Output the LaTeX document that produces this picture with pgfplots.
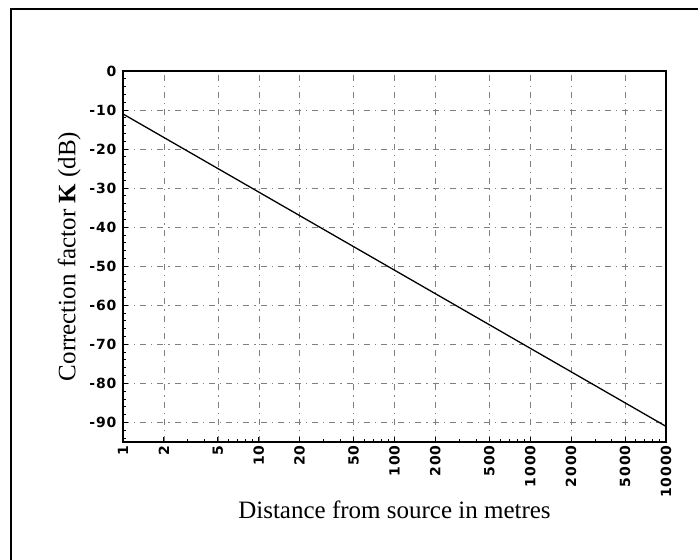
\documentclass[border=0pt]{standalone}
\usepackage{pgfplots}
\pgfplotsset{compat=1.18}
\usepackage{fontspec}
\setmainfont{Liberation Serif}
\newfontfamily\tickfont[LetterSpace=6]{DejaVu Sans}
\begin{document}
\begin{tikzpicture}[x=1pt,y=1pt]
\path[use as bounding box] (-123,-117) rectangle (575,442);
\draw[line width=1.6pt] (-112,-120) -- (-112,433) -- (580,433);
\begin{axis}[
  at={(0,0)}, anchor=south west,
  scale only axis, width=543pt, height=371pt,
  xmode=log, xmin=1, xmax=10000, ymin=-95, ymax=0,
  axis line style={line width=1.6pt},
  xtick={1,2,5,10,20,50,100,200,500,1000,2000,5000,10000},
  xticklabels={1,2,5,10,20,50,100,200,500,1000,2000,5000,10000},
  minor xtick={3,4,6,7,8,9,30,40,60,70,80,90,300,400,600,700,800,900,3000,4000,6000,7000,8000,9000},
  ytick={0,-10,-20,-30,-40,-50,-60,-70,-80,-90},
  yticklabels={0,{-}10,{-}20,{-}30,{-}40,{-}50,{-}60,{-}70,{-}80,{-}90},
  minor ytick={-94,-92,...,-2},
  xtick pos=bottom, ytick pos=left, tick align=inside,
  major tick length=5pt, minor tick length=3pt,
  tick style={black, line width=1pt},
  grid=major,
  major grid style={black!50, line width=0.5pt, dash pattern=on 6pt off 5pt on 1.2pt off 5pt},
  xticklabel style={rotate=90, anchor=east, font=\tickfont\bfseries\fontsize{14}{16}\selectfont},
  yticklabel style={font=\tickfont\bfseries\fontsize{14}{16}\selectfont, xshift=-3pt},
  xlabel={Distance from source in metres},
  ylabel={Correction factor \textbf{K} (dB)},
  label style={font=\fontsize{25}{29}\selectfont},
  xlabel style={yshift=4pt},
  ylabel style={yshift=2pt},
]
\addplot[black, line width=1.3pt] coordinates {(1,-11) (10,-31) (100,-51) (1000,-71) (10000,-91)};
\end{axis}
\end{tikzpicture}
\end{document}
